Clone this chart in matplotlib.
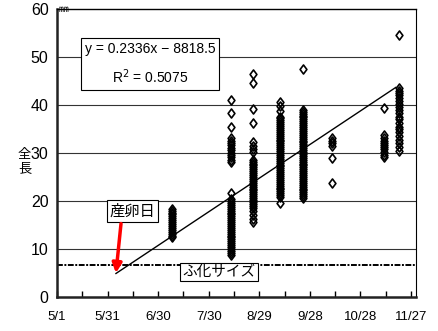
import datetime as dt
import matplotlib
matplotlib.use("Agg")
import matplotlib.pyplot as plt
import matplotlib.dates as mdates
from matplotlib.path import Path

plt.rcParams['font.family'] = ['Liberation Sans', 'Noto Sans CJK JP', 'DejaVu Sans']

# sampling dates and measured total lengths (mm) per sampling
sample_dates = ['2003-07-08', '2003-08-12', '2003-08-25', '2003-09-10',
                '2003-09-24', '2003-10-11', '2003-11-11', '2003-11-20']

len_jul08 = [12.4, 12.8, 13.2, 13.6, 14.0, 14.4, 14.8, 15.2, 15.6, 16.0,
             16.4, 16.8, 17.2, 17.6, 18.0, 18.4]
len_aug12 = [8.8, 9.2, 9.6, 10.0, 10.4, 10.8, 11.2, 11.6, 12.0, 12.4, 12.8,
             13.2, 13.6, 14.0, 14.4, 14.8, 15.2, 15.6, 16.0, 16.4, 16.8, 17.2,
             17.6, 18.0, 18.4, 18.8, 19.2, 19.6, 20.0, 20.4, 21.7,
             28.1, 28.6, 29.1, 29.6, 30.1, 30.6, 31.1, 31.6, 32.1, 32.6, 33.1,
             35.4, 38.3, 41.0]
len_aug25 = [46.5, 44.6, 39.2, 36.2, 32.3, 31.5, 30.8, 30.2,
             28.6, 28.2, 27.8, 27.4, 27.0, 26.6, 26.2, 25.8, 25.4, 25.0, 24.6,
             24.2, 23.8, 23.4, 23.0, 22.6, 22.2, 21.8, 21.4, 21.0, 20.6, 20.2,
             19.8, 19.4, 19.0, 18.6, 17.9, 17.0, 16.3, 15.6]
len_sep10 = [40.7, 39.8, 38.8,
             37.6, 37.2, 36.8, 36.4, 36.0, 35.6, 35.2, 34.8, 34.4, 34.0, 33.6,
             33.2, 32.8, 32.4, 32.0, 31.6, 31.2, 30.8, 30.4, 30.0, 29.6, 29.2,
             28.8, 28.4, 28.0, 27.6, 27.2, 26.8, 26.4, 26.0, 25.6, 25.2, 24.8,
             24.4, 24.0, 23.6, 23.2, 22.8, 22.4, 22.0, 21.6, 21.2, 20.9, 19.6]
len_sep24 = [47.5,
             39.0, 38.6, 38.2, 37.8, 37.4, 37.0, 36.6, 36.2, 35.8, 35.4, 35.0,
             34.6, 34.2, 33.8, 33.4, 33.0, 32.6, 32.2, 31.8, 31.4, 31.0, 30.6,
             30.2, 29.8, 29.4, 29.0, 28.6, 28.2, 27.8, 27.4, 27.0, 26.6, 26.2,
             25.8, 25.4, 25.0, 24.6, 24.2, 23.8, 23.4, 23.0, 22.6, 22.2, 21.8,
             21.4, 21.0, 20.6]
len_oct11 = [33.2, 32.6, 32.0, 31.5, 29.0, 23.7]
len_nov11 = [39.4, 33.8, 33.2, 32.6, 32.0, 31.6, 31.2, 30.8, 30.2, 29.6, 29.1]
len_nov20 = [54.6, 43.5, 43.0, 42.5, 42.0, 41.4, 40.8, 40.2, 39.6, 39.0, 38.3,
             37.6, 37.0, 36.2, 35.5, 35.0, 34.3, 33.6, 32.8, 32.0, 31.2, 30.5]
lengths = [len_jul08, len_aug12, len_aug25, len_sep10,
           len_sep24, len_oct11, len_nov11, len_nov20]

tick_dates = ['2003-05-01', '2003-05-31', '2003-06-30', '2003-07-30',
              '2003-08-29', '2003-09-28', '2003-10-28', '2003-11-27']
tick_labels = ['5/1', '5/31', '6/30', '7/30', '8/29', '9/28', '10/28', '11/27']

# linear trend (slope per day), drawn from spawning date onward
trend_slope = 0.2336
trend_start, trend_start_len = '2003-06-05', 4.9
trend_end = '2003-11-18'
hatch_size = 6.7
spawn_label_at = ('2003-06-15', 17.9)
hatch_label_at = ('2003-08-05', 5.2)


def d(s):
    return mdates.date2num(dt.date.fromisoformat(s))


diamond = Path([(0, 1), (0.75, 0), (0, -1), (-0.75, 0), (0, 1)],
               [Path.MOVETO, Path.LINETO, Path.LINETO, Path.LINETO, Path.CLOSEPOLY])

fig = plt.figure(figsize=(4.38, 3.31), dpi=100)
ax = fig.add_axes([0.130, 0.1027, 0.820, 0.8701])

for grid_y in [10, 20, 30, 40, 50]:
    ax.axhline(grid_y, color='#333333', lw=0.8, zorder=1)

for sd, vals in zip(sample_dates, lengths):
    ax.plot([d(sd)] * len(vals), vals, linestyle='none', marker=diamond,
            ms=6.5, mfc='none', mec='black', mew=1.2, zorder=3)

# trend line
x0, x1 = d(trend_start), d(trend_end)
ax.plot([x0, x1], [trend_start_len, trend_start_len + trend_slope * (x1 - x0)],
        color='black', lw=1.0, zorder=4)

# hatching size
ax.axhline(hatch_size, color='black', lw=1.4, dashes=(3, 0.8, 1, 0.8), zorder=2,
           clip_on=False)

ax.text(0.259, 0.809, 'y = 0.2336x − 8818.5\nR$^2$ = 0.5075', transform=ax.transAxes,
        ha='center', va='center', fontsize=10, linespacing=1.75,
        bbox=dict(boxstyle='square,pad=0.25', fc='white', ec='black', lw=0.8),
        zorder=5)

ax.text(d(spawn_label_at[0]), spawn_label_at[1], '産卵日', ha='center', va='center',
        fontsize=11, family=['Noto Sans CJK JP'],
        bbox=dict(boxstyle='square,pad=0.18', fc='white', ec='black', lw=0.8), zorder=5)
ax.annotate('', xy=(d('2003-06-05'), 5.0), xytext=(d('2003-06-08'), 15.3),
            arrowprops=dict(arrowstyle='-|>', color='#ff0000', lw=2.5,
                            mutation_scale=14, shrinkA=0, shrinkB=0), zorder=6)
ax.text(d(hatch_label_at[0]), hatch_label_at[1], 'ふ化サイズ', ha='center', va='center',
        fontsize=10.5, family=['Noto Sans CJK JP'],
        bbox=dict(boxstyle='square,pad=0.15', fc='white', ec='black', lw=0.8), zorder=5)

ax.set_xlim(d('2003-05-01'), d('2003-11-30'))
ax.set_ylim(0, 60)
ax.set_xticks([d(t) for t in tick_dates])
ax.set_xticklabels(tick_labels, fontsize=9.5)
ax.set_xticks([d(t) + 15 for t in tick_dates[:-1]], minor=True)
ax.tick_params(axis='x', which='both', direction='in', length=4, width=1, pad=10)
ax.set_yticks([0, 10, 20, 30, 40, 50, 60])
ax.tick_params(axis='y', length=0, pad=6, labelsize=11.5)

for side in ['left', 'bottom']:
    ax.spines[side].set_linewidth(1.8)
    ax.spines[side].set_color('#222222')
ax.spines['right'].set_linewidth(0.8)
ax.spines['top'].set_linewidth(1.0)

ax.text(0.005, 1.0, '㎜', transform=ax.transAxes, ha='left', va='center',
        fontsize=7, family=['Noto Sans CJK JP', 'DejaVu Sans'])
ax.text(-0.09, 0.47, '全\n長', transform=ax.transAxes, ha='center', va='center',
        fontsize=9.5, linespacing=1.05, family=['Noto Sans CJK JP'])

fig.savefig('out.png', dpi=100)
